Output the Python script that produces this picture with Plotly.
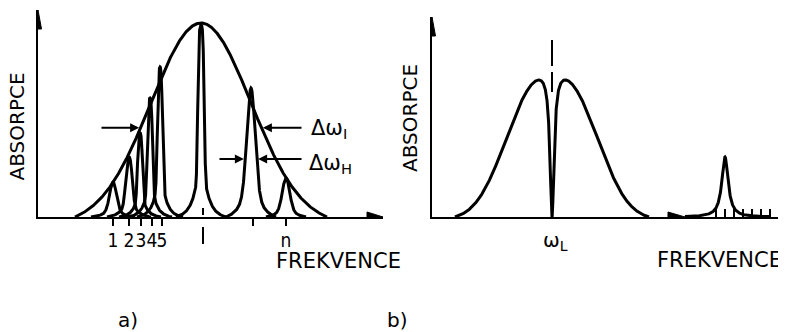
import numpy as np
import plotly.graph_objects as go

# page body has an 8px margin: lay the figure out so that reference pixels line up
OFF = 8
W, H = 786 - OFF, 332 - OFF

# ---------------- panel a) data ----------------
A_PEAK_X = [113, 129, 140, 150, 160, 201, 251, 286]
A_PEAK_H = [35, 60, 84, 119, 150, 192, 129, 39]
A_PEAK_HALFWIDTH = [4.6, 4.1, 3.0, 3.0, 3.0, 3.6, 5.6, 5.0]
A_PEAK_POWER = [2.0, 2.5, 3.0, 3.0, 3.0, 4.0, 2.0, 2.0]
A_PEAK_BASE = [22, 22, 21, 22, 23, 25, 25, 20]   # half width at which a line meets the baseline
WING_FRAC = 0.35
WING_SCALE = 2.0
A_ENV_CENTER = 201
A_ENV_HEIGHT = 194
A_ENV_SIGMA = 50
A_ENV_HALFBASE = 126
A_TICK_X = [113, 129, 141, 152, 162, 253, 286]
A_TICK_TEXT = ["1", "2", "3", "4", "5", "", "n"]
A_CENTER_MARK = 203
DW_I_LEVEL = 0.46          # fraction of envelope height
DW_H_LEVEL = 0.45          # fraction of peak height
DW_H_PEAK = 6              # index of the marked peak
DW_I_TAILS = [100, 303]
DW_H_TAILS = [218, 303]

# ---------------- panel b) data ----------------
B_MAIN_CENTER = 552
B_MAIN_HEIGHT = 146
B_MAIN_WIDTH = 56
B_MAIN_POWER = 2.5
B_MAIN_HALFBASE = 97
B_HOLE_GAMMA = 2.5
B_SIDE_X = 725
B_SIDE_H = 60
B_SIDE_GAMMA = 3.8
B_TICK_X = [716, 725, 734, 743, 752, 761, 770]

# ---------------- geometry (reference pixels) ----------------
A_X0, A_X1, A_YB, A_YT = 38, 383, 217, 10
B_X0, B_X1, B_YB, B_YT = 432, 780, 217, 17
B_ARROW_X = 685

def px(x):
    return (x - OFF) / W

def py(y):
    return 1 - (y - OFF) / H

LW = 3
AXW = 2
FONT = "DejaVu Sans"
BLACK = "black"

fig = go.Figure()

def lorentz(x, c, h, g):
    return h / (1 + ((x - c) / g) ** 2)

def shape_fn(d, a, p):
    core = np.exp(-(d / a) ** p)
    wing = WING_FRAC / (1 + (d / (WING_SCALE * a)) ** 2)
    return (core + wing) / (1 + WING_FRAC)

def line_profile(x, c, h, a, p, base):
    d = np.abs(x - c)
    f0 = shape_fn(base, a, p)
    return h * np.clip((shape_fn(d, a, p) - f0) / (1 - f0), 0, None)

# envelope (inhomogeneous profile)
xe = np.linspace(A_ENV_CENTER - A_ENV_HALFBASE, A_ENV_CENTER + A_ENV_HALFBASE, 800)
ge = np.exp(-((xe - A_ENV_CENTER) ** 2) / (2 * A_ENV_SIGMA ** 2))
g0 = np.exp(-(A_ENV_HALFBASE ** 2) / (2 * A_ENV_SIGMA ** 2))
ye = A_ENV_HEIGHT * np.clip((ge - g0) / (1 - g0), 0, None)
fig.add_trace(go.Scatter(x=xe, y=ye, mode="lines", line=dict(color=BLACK, width=LW),
                         xaxis="x", yaxis="y", hoverinfo="skip"))

# homogeneous lines
peak_curves = []
for c, h, a, p, base in zip(A_PEAK_X, A_PEAK_H, A_PEAK_HALFWIDTH, A_PEAK_POWER, A_PEAK_BASE):
    xp = np.linspace(c - base, c + base, 1601)
    yp = line_profile(xp, c, h, a, p, base)
    peak_curves.append((xp, yp))
    fig.add_trace(go.Scatter(x=xp, y=yp, mode="lines",
                             line=dict(color=BLACK, width=LW),
                             xaxis="x", yaxis="y", hoverinfo="skip"))

# panel b main band with hole
xb = np.linspace(B_MAIN_CENTER - B_MAIN_HALFBASE, B_MAIN_CENTER + B_MAIN_HALFBASE, 2001)
db = xb - B_MAIN_CENTER
sg = np.exp(-(np.abs(db) / B_MAIN_WIDTH) ** B_MAIN_POWER)
sg0 = np.exp(-(B_MAIN_HALFBASE / B_MAIN_WIDTH) ** B_MAIN_POWER)
yb = B_MAIN_HEIGHT * np.clip((sg - sg0) / (1 - sg0), 0, None) * db ** 2 / (db ** 2 + B_HOLE_GAMMA ** 2)
fig.add_trace(go.Scatter(x=xb, y=yb, mode="lines", line=dict(color=BLACK, width=LW),
                         xaxis="x2", yaxis="y2", hoverinfo="skip"))

# panel b side line
xs = np.linspace(B_ARROW_X, B_SIDE_X + 45, 1001)
fig.add_trace(go.Scatter(x=xs, y=lorentz(xs, B_SIDE_X, B_SIDE_H, B_SIDE_GAMMA), mode="lines",
                         line=dict(color=BLACK, width=LW),
                         xaxis="x2", yaxis="y2", hoverinfo="skip"))

# dashed marker above the hole (panel b)
fig.add_trace(go.Scatter(x=[B_MAIN_CENTER, B_MAIN_CENTER], y=[B_YB - 40, B_YB - 92], mode="lines",
                         line=dict(color=BLACK, width=2, dash="26px,6px"),
                         xaxis="x2", yaxis="y2", hoverinfo="skip"))

shapes = []
# dashed centre mark (panel a)
shapes.append(dict(type="line", xref="x", yref="paper", x0=A_CENTER_MARK, x1=A_CENTER_MARK,
                   y0=py(208), y1=py(244), line=dict(color=BLACK, width=2, dash="7px,12px,17px,40px")))

def arrowhead(xref, yref, xa, ya, direction, length, hw):
    if direction == "up":
        path = f"M0,0 L{-hw},{-length} L{hw},{-length} Z"
    else:
        path = f"M0,0 L{-length},{hw} L{-length},{-hw} Z"
    return dict(type="path", xref=xref, yref=yref, xsizemode="pixel", ysizemode="pixel",
                xanchor=xa, yanchor=ya, path=path, fillcolor=BLACK, line=dict(color=BLACK, width=1))

shapes.append(arrowhead("x", "y", A_X0, A_YB - A_YT, "up", 19, 3.5))
shapes.append(arrowhead("x", "y", A_X1, 0, "right", 16, 5))
shapes.append(arrowhead("x2", "y2", B_X0, B_YB - B_YT, "up", 19, 3.5))
shapes.append(arrowhead("x2", "y2", B_ARROW_X, 0, "right", 17, 5))

annotations = []

def text(x, y, t, size=20, angle=0, xanchor="center", yanchor="middle", family=FONT):
    annotations.append(dict(x=px(x), y=py(y), xref="paper", yref="paper", text=t, showarrow=False,
                            textangle=angle, xanchor=xanchor, yanchor=yanchor, borderpad=0,
                            font=dict(family=family, size=size, color=BLACK)))

text(16.5, 127, "ABSORPCE", size=20, angle=-90)
text(410, 118, "ABSORPCE", size=20, angle=-90)
text(338, 261, "FREKVENCE", size=21)
text(719, 259.5, "FREKVENCE", size=21)
text(128, 320, "a)", size=20)
text(398, 320, "b)", size=20)
text(310, 129, "Δω<sub>I</sub>", size=21, xanchor="left")
text(308, 164, "Δω<sub>H</sub>", size=21, xanchor="left")
text(B_MAIN_CENTER + 3, 241, "ω<sub>L</sub>", size=20)

def arrow(xref, yref, tip_x, tail_x, y):
    annotations.append(dict(x=tip_x, y=y, ax=tail_x, ay=y, xref=xref, yref=yref,
                            axref=xref, ayref=yref, text="", showarrow=True,
                            arrowhead=2, arrowsize=0.9, arrowwidth=2, arrowcolor=BLACK,
                            standoff=0, startstandoff=0))

# Δω_I arrows at the envelope
lev = DW_I_LEVEL * (1 - g0) + g0
dI = A_ENV_SIGMA * np.sqrt(-2 * np.log(lev))
yI = DW_I_LEVEL * A_ENV_HEIGHT
arrow("x", "y", A_ENV_CENTER - dI - 1.5, DW_I_TAILS[0], yI)
arrow("x", "y", A_ENV_CENTER + dI + 1.5, DW_I_TAILS[1], yI)
# Δω_H arrows at a single line (half width read from its computed profile)
xp, yp = peak_curves[DW_H_PEAK]
ph = A_PEAK_H[DW_H_PEAK]
above = xp[yp >= DW_H_LEVEL * ph]
yH = DW_H_LEVEL * ph
arrow("x", "y", above.min() - 1.5, DW_H_TAILS[0], yH)
arrow("x", "y", above.max() + 1.5, DW_H_TAILS[1], yH)

axis_common = dict(showgrid=False, zeroline=False, showline=True, linecolor=BLACK, linewidth=AXW,
                   fixedrange=True)

fig.update_layout(
    width=W, height=H, margin=dict(l=0, r=0, t=0, b=0),
    paper_bgcolor="white", plot_bgcolor="white", showlegend=False, hovermode=False,
    xaxis=dict(domain=[px(A_X0), px(A_X1)], range=[A_X0, A_X1], anchor="y",
               tickmode="array", tickvals=A_TICK_X, ticktext=A_TICK_TEXT, tickangle=0,
               ticks="outside", ticklen=7, tickwidth=2, tickcolor=BLACK,
               tickfont=dict(family="DejaVu Sans Condensed, DejaVu Sans", size=19, color=BLACK),
               ticklabelstandoff=-2, **axis_common),
    yaxis=dict(domain=[py(A_YB), py(A_YT)], range=[0, A_YB - A_YT], anchor="x",
               showticklabels=False, ticks="", **axis_common),
    xaxis2=dict(domain=[px(B_X0), px(B_X1)], range=[B_X0, B_X1], anchor="y2",
                tickmode="array", tickvals=B_TICK_X, ticks="inside", ticklen=8, tickwidth=2,
                tickcolor=BLACK, showticklabels=False, **axis_common),
    yaxis2=dict(domain=[py(B_YB), py(B_YT)], range=[0, B_YB - B_YT], anchor="x2",
                showticklabels=False, ticks="", **axis_common),
    shapes=shapes, annotations=annotations,
)

fig.write_html("out.html")
